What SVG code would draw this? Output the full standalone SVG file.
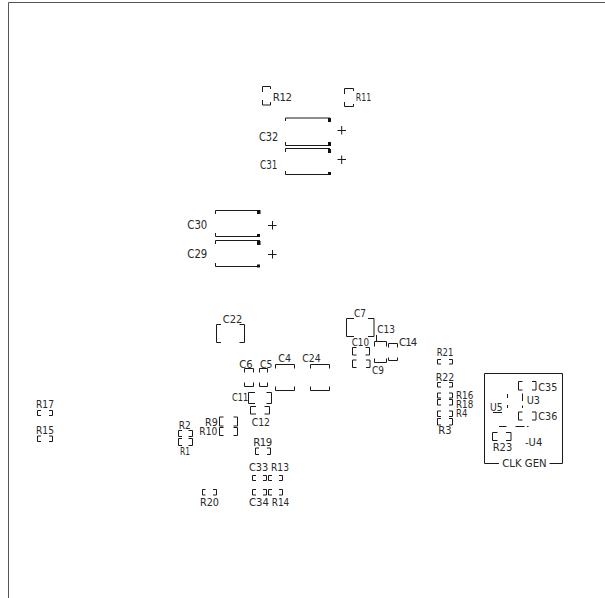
<svg xmlns="http://www.w3.org/2000/svg" width="605" height="598" viewBox="0 0 605 598">
<style>
text{font-family:"DejaVu Sans","Liberation Sans",sans-serif;font-size:10.2px;fill:#2a2a2a}
text.b{font-size:11.5px}
path{fill:none;stroke:#1a1a1a;stroke-width:1}
rect.p{fill:#111}
</style>
<rect width="605" height="598" fill="#fff"/>
<path id="border" d="M8.500 598V2.500H605" style="stroke:#555"/>
<g id="R12"><path d="M262.500 92V86.500H270.500V89M262.500 100V105H270.500V102"/><text x="272.700" y="100.500" textLength="19.300" lengthAdjust="spacing">R12</text></g>
<g id="R11"><path d="M344.500 94V88.500H353.500V91M344.500 102V106.500H353.500V104"/><text x="355.700" y="100.500" textLength="15.500" lengthAdjust="spacingAndGlyphs">R11</text></g>
<g id="C32"><path d="M285.500 121V118H330M285.500 142V145.500H330"/><rect class="p" x="328" y="118" width="3" height="4"/><rect class="p" x="328" y="142" width="3" height="4"/><text class="b" x="259" y="141" textLength="19.300" lengthAdjust="spacingAndGlyphs">C32</text><path d="M341.700 126V134.500M337.500 130.500H346"/></g>
<g id="C31"><path d="M285.500 152V148.500H330M285.500 171V174.500H330"/><rect class="p" x="328" y="149" width="3" height="4"/><rect class="p" x="328" y="172" width="3" height="3"/><text class="b" x="260" y="169" textLength="17.300" lengthAdjust="spacingAndGlyphs">C31</text><path d="M341.700 155.500V164M337.500 159.500H346"/></g>
<g id="C30"><path d="M215.500 214V210.500H260M215.500 233V236.500H260"/><rect class="p" x="257" y="210" width="3.500" height="4"/><rect class="p" x="257" y="234" width="3" height="3"/><text class="b" x="187.300" y="229.300" textLength="20" lengthAdjust="spacingAndGlyphs">C30</text><path d="M272.500 221V229.500M268 225.500H276.500"/></g>
<g id="C29"><path d="M215.500 244V240.500H260M215.500 263V266.500H260"/><rect class="p" x="257" y="241" width="3.500" height="4"/><rect class="p" x="257" y="264.500" width="3" height="3"/><text class="b" x="187.300" y="257.700" textLength="20" lengthAdjust="spacingAndGlyphs">C29</text><path d="M272.500 250V258.500M268 254.500H276.500"/></g>
<g id="C22"><path d="M221 324.500H216.500V342.500H221M239.500 324.500H244.500V342.500H239.500"/><text x="222.700" y="322.500" textLength="19.600" lengthAdjust="spacingAndGlyphs">C22</text></g>
<g id="C7"><path d="M354 318.500H346.500V336.500H354M368 318.500H374V336.500H368"/><text x="354" y="317" textLength="12" lengthAdjust="spacingAndGlyphs">C7</text></g>
<g id="C13"><path d="M374.500 346.500V341.500H386.500V346.500M376.500 341V335"/><text x="377.300" y="333.300" textLength="17.700" lengthAdjust="spacingAndGlyphs">C13</text></g>
<g id="C14"><path d="M388.500 347.500V343.500H397.500V347.500M388.500 357.500V360.500H397.500V357.500"/><text x="399" y="345.700" textLength="18.300" lengthAdjust="spacing">C14</text></g>
<g id="C10"><path d="M356.500 347.500H352.500V355H356.500M365.500 347.500H369.500V355H365.500"/><text x="351.700" y="345.700" textLength="17.300" lengthAdjust="spacingAndGlyphs">C10</text></g>
<g id="C9"><path d="M374.500 358.500V362.500H386.500V358.500"/><path d="M356.500 360H352.500V367.500H356.500M366 360H370V367.500H366"/><text x="372" y="374" textLength="12" lengthAdjust="spacingAndGlyphs">C9</text></g>
<g id="C6"><path d="M244.500 372.500V368.500H253.500V372.500M244.500 382.500V386.500H253.500V382.500"/><text x="239.300" y="368" textLength="13.400" lengthAdjust="spacingAndGlyphs">C6</text></g>
<g id="C5"><path d="M259.500 372.500V368.500H267.500V372.500M259.500 382.500V386.500H267.500V382.500"/><text x="260" y="368" textLength="12.300" lengthAdjust="spacingAndGlyphs">C5</text></g>
<g id="C4"><path d="M275.500 368.500V364.500H294.500V368.500M275.500 386.500V390.500H294.500V386.500"/><text x="278.300" y="362.300" textLength="12.700" lengthAdjust="spacingAndGlyphs">C4</text></g>
<g id="C24"><path d="M310.500 368.500V364.500H329.500V368.500M310.500 386.500V390.500H329.500V386.500"/><text x="302.300" y="362.300" textLength="18.400" lengthAdjust="spacingAndGlyphs">C24</text></g>
<g id="C11"><path d="M255 392.500H248.500V403.500H255M266.500 392.500H271.500V403.500H266.500"/><text x="232" y="400.700" textLength="16.300" lengthAdjust="spacingAndGlyphs">C11</text></g>
<g id="C12"><path d="M256 406.500H250.500V414H256M264.500 406.500H269.500V414H264.500"/><text x="251.700" y="425.700" textLength="18.300" lengthAdjust="spacingAndGlyphs">C12</text></g>
<g id="R9"><path d="M223.500 417H219.500V426H223.500M233.500 417H237.500V426H233.500"/><text x="205" y="425.700" textLength="12.700" lengthAdjust="spacingAndGlyphs">R9</text></g>
<g id="R10"><path d="M223.500 427.500H219.500V435.500H223.500M233.500 427.500H237.500V435.500H233.500"/><text x="199.300" y="434.500" textLength="18" lengthAdjust="spacingAndGlyphs">R10</text></g>
<g id="R2"><path d="M182 430.500H178.500V436.500H182M188.500 430.500H192.500V436.500H188.500"/><text x="178.700" y="429" textLength="12" lengthAdjust="spacingAndGlyphs">R2</text></g>
<g id="R1"><path d="M182 438.500H178.500V445.500H182M188.500 438.500H192.500V445.500H188.500"/><text x="180" y="454.500" textLength="10" lengthAdjust="spacingAndGlyphs">R1</text></g>
<g id="R19"><path d="M259 448H255.500V454.500H259M267 448H270.500V454.500H267"/><text x="253.300" y="445.700" textLength="19" lengthAdjust="spacing">R19</text></g>
<g id="C33"><path d="M256 475.500H252.500V480.500H256M263 475.500H266.500V480.500H263"/><text x="249" y="470.700" textLength="19.300" lengthAdjust="spacingAndGlyphs">C33</text></g>
<g id="R13"><path d="M272 475.500H268.500V480.500H272M279 475.500H282.500V480.500H279"/><text x="271" y="470.700" textLength="18" lengthAdjust="spacingAndGlyphs">R13</text></g>
<g id="C34"><path d="M256 489.500H252.500V495H256M263 489.500H266.500V495H263"/><text x="249" y="505.700" textLength="20" lengthAdjust="spacingAndGlyphs">C34</text></g>
<g id="R14"><path d="M272 489.500H268.500V495H272M279 489.500H282.500V495H279"/><text x="271.700" y="505.700" textLength="17.600" lengthAdjust="spacingAndGlyphs">R14</text></g>
<g id="R20"><path d="M205.500 489.500H202.500V495H205.500M213 489.500H216.500V495H213"/><text x="200" y="505.700" textLength="19" lengthAdjust="spacingAndGlyphs">R20</text></g>
<g id="R21"><path d="M441 359.500H437.500V364H441M449 359.500H452.500V364H449"/><text x="436.700" y="356" textLength="16.600" lengthAdjust="spacingAndGlyphs">R21</text></g>
<g id="R22"><path d="M441 382.500H437.500V387H441M449 382.500H452.500V387H449"/><text x="435.700" y="380.700" textLength="18.600" lengthAdjust="spacingAndGlyphs">R22</text></g>
<g id="R16"><path d="M441 393H437.500V398H441M449 393H452.500V398H449"/><text x="456" y="399" textLength="17.300" lengthAdjust="spacingAndGlyphs">R16</text></g>
<g id="R18"><path d="M441 399.500H437.500V405H441M449 399.500H452.500V405H449"/><text x="456" y="407.700" textLength="17.300" lengthAdjust="spacingAndGlyphs">R18</text></g>
<g id="R4"><path d="M441 411H437.500V416.500H441M449 411H452.500V416.500H449"/><text x="456" y="417.300" textLength="11.300" lengthAdjust="spacingAndGlyphs">R4</text></g>
<g id="R3"><path d="M441 418.500H437.500V425H441M449 418.500H452.500V425H449"/><text x="438.300" y="434.300" textLength="13.400" lengthAdjust="spacingAndGlyphs">R3</text></g>
<g id="CLK-GEN"><path d="M499 463.500H484.500V373.500H562.500V463.500H549.500"/><text x="502.300" y="466.700" textLength="44.400" lengthAdjust="spacingAndGlyphs">CLK GEN</text></g>
<g id="C35"><path d="M522.500 381.500H518.500V390H522.500M532 381.500H536V390H532"/><text x="538.300" y="390.700" textLength="19" lengthAdjust="spacingAndGlyphs">C35</text></g>
<g id="C36"><path d="M522.500 412H518.500V420H522.500M532 412H536V420H532"/><text x="538.300" y="420" textLength="19" lengthAdjust="spacingAndGlyphs">C36</text></g>
<g id="U3"><path d="M507.500 394V398M522.500 393.500V401M507.500 405V408M522.500 405.500V408"/><text x="526.700" y="404" textLength="13.300" lengthAdjust="spacingAndGlyphs">U3</text></g>
<g id="U5"><path d="M493 412.500H502"/><text x="490" y="410.500" textLength="12.700" lengthAdjust="spacingAndGlyphs">U5</text></g>
<g id="U4"><path d="M499 426.500H506.500M515.500 426.500H524.500M527 426.500H528.500"/><text x="525" y="445.700" textLength="17.300" lengthAdjust="spacingAndGlyphs">-U4</text></g>
<g id="R23"><path d="M497.500 432.500H492.500V440.500H497.500M506 432.500H511V440.500H506"/><text x="492.700" y="450.700" textLength="19.600" lengthAdjust="spacingAndGlyphs">R23</text></g>
<g id="R17"><path d="M41 410.500H37.500V415.500H41M49 410.500H52.500V415.500H49"/><text x="36" y="407.500" textLength="18" lengthAdjust="spacingAndGlyphs">R17</text></g>
<g id="R15"><path d="M41 436H37.500V441.500H41M49 436H52.500V441.500H49"/><text x="36" y="433.500" textLength="18" lengthAdjust="spacingAndGlyphs">R15</text></g>
</svg>
